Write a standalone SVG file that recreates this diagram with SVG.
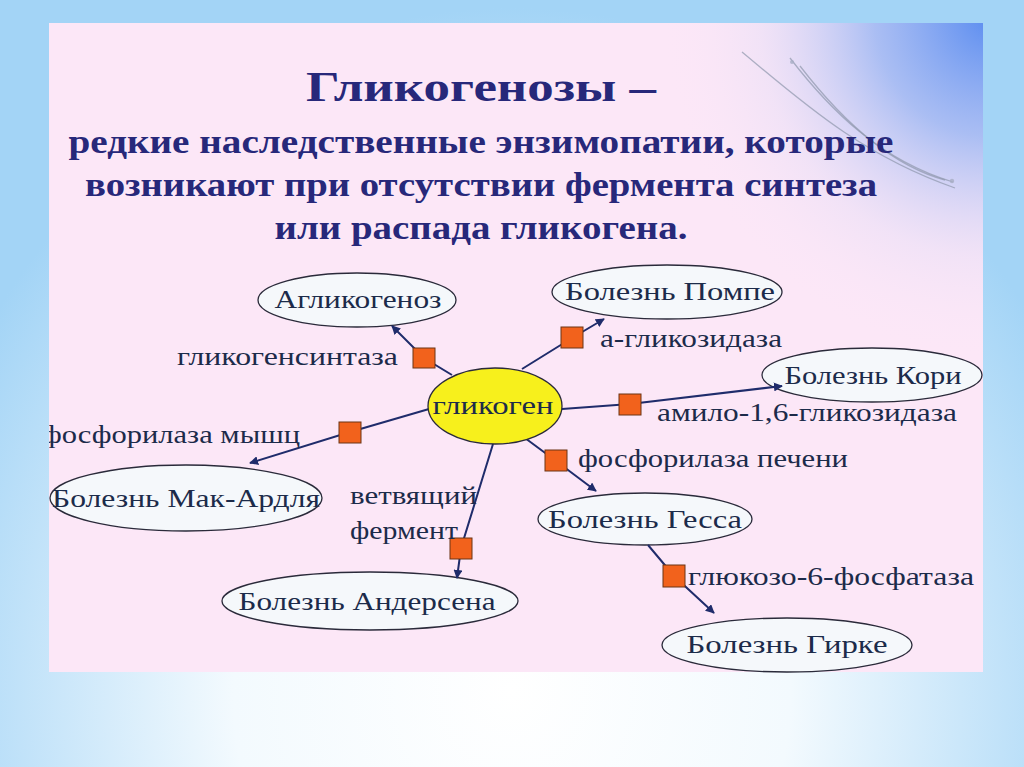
<svg xmlns="http://www.w3.org/2000/svg" width="1024" height="767" viewBox="0 0 1024 767">
<defs>
<radialGradient id="bg" cx="512" cy="690" r="620" gradientUnits="userSpaceOnUse" gradientTransform="translate(512 690) scale(1 1.1) translate(-512 -690)">
<stop offset="0" stop-color="#ffffff"/>
<stop offset="0.45" stop-color="#f3fafe"/>
<stop offset="1" stop-color="#a3d4f6"/>
</radialGradient>
<radialGradient id="blueCorner" cx="990" cy="15" r="330" gradientUnits="userSpaceOnUse" gradientTransform="translate(990 15) scale(1 1.05) translate(-990 -15)">
<stop offset="0" stop-color="#5a8cf0" stop-opacity="1"/>
<stop offset="0.35" stop-color="#8fb0f2" stop-opacity="0.75"/>
<stop offset="0.7" stop-color="#d9d8f6" stop-opacity="0.3"/>
<stop offset="1" stop-color="#fce8f8" stop-opacity="0"/>
</radialGradient>
<clipPath id="panelClip"><rect x="49" y="23" width="934" height="649"/></clipPath>
<marker id="arr" viewBox="0 0 10 10" refX="9" refY="5" markerWidth="9" markerHeight="9" markerUnits="userSpaceOnUse" orient="auto">
<path d="M0,0 L10,5 L0,10 z" fill="#1f2c6b"/>
</marker>
<style>
.title{font-family:"Liberation Serif","Times New Roman",serif;font-weight:bold;fill:#27287a;text-anchor:middle}
.node ellipse{fill:#f5f8fb;stroke:#2a2a3a;stroke-width:1.3}
.node text{font-family:"Liberation Serif","Times New Roman",serif;font-size:25px;fill:#1c2b4a;text-anchor:middle}
.lbl{font-family:"Liberation Serif","Times New Roman",serif;font-size:25px;fill:#1c2b4a}
.conn{fill:none;stroke:#1f2c6b;stroke-width:2}
.sq{fill:#f2621c;stroke:#6b3414;stroke-width:1}
.swoosh{fill:none;stroke:#8f97ad;stroke-width:1.3;opacity:0.7}
</style>
</defs>

<rect x="0" y="0" width="1024" height="767" fill="url(#bg)"/>
<rect x="49" y="23" width="934" height="649" fill="#fce7f7"/>
<rect x="49" y="23" width="934" height="649" fill="url(#blueCorner)"/>

<g id="decor" clip-path="url(#panelClip)">
<path class="swoosh" d="M742,52 C800,100 860,155 955,188"/>
<path class="swoosh" d="M790,58 C830,110 880,160 953,182"/>
<path class="swoosh" d="M800,66 C840,118 890,165 945,180"/>
<circle cx="792" cy="62" r="2" fill="#a7aec4" opacity="0.8"/>
<circle cx="952" cy="181" r="2.2" fill="#a7aec4" opacity="0.8"/>
</g>

<g id="heading">
<text class="title" x="481" y="101" font-size="42" textLength="350" lengthAdjust="spacingAndGlyphs">Гликогенозы –</text>
<text class="title" x="481" y="153" font-size="34" textLength="825" lengthAdjust="spacingAndGlyphs">редкие наследственные энзимопатии, которые</text>
<text class="title" x="481" y="196" font-size="34" textLength="792" lengthAdjust="spacingAndGlyphs">возникают при отсутствии фермента синтеза</text>
<text class="title" x="481" y="239" font-size="34" textLength="413" lengthAdjust="spacingAndGlyphs">или распада гликогена.</text>
</g>

<g id="node-aglikogenoz" class="node">
<ellipse cx="357" cy="300" rx="99" ry="27"/>
<text x="358" y="308" textLength="167" lengthAdjust="spacingAndGlyphs">Агликогеноз</text>
</g>
<g id="node-pompe" class="node">
<ellipse cx="667" cy="292" rx="115" ry="27"/>
<text x="670" y="300" textLength="210" lengthAdjust="spacingAndGlyphs">Болезнь Помпе</text>
</g>
<g id="node-kori" class="node">
<ellipse cx="872" cy="375" rx="110" ry="27"/>
<text x="873" y="384" textLength="177" lengthAdjust="spacingAndGlyphs">Болезнь Кори</text>
</g>
<g id="node-mcardle" class="node">
<ellipse cx="186" cy="498" rx="136" ry="33"/>
<text x="186" y="507" textLength="268" lengthAdjust="spacingAndGlyphs">Болезнь Мак-Ардля</text>
</g>
<g id="node-andersen" class="node">
<ellipse cx="370" cy="601" rx="148" ry="29"/>
<text x="367" y="610" textLength="257" lengthAdjust="spacingAndGlyphs">Болезнь Андерсена</text>
</g>
<g id="node-hess" class="node">
<ellipse cx="645" cy="519" rx="107" ry="26"/>
<text x="645" y="528" textLength="194" lengthAdjust="spacingAndGlyphs">Болезнь Гесса</text>
</g>
<g id="node-girke" class="node">
<ellipse cx="787" cy="645" rx="125" ry="27"/>
<text x="787" y="653" textLength="201" lengthAdjust="spacingAndGlyphs">Болезнь Гирке</text>
</g>

<g id="connectors">
<path class="conn" d="M452,375 L424,358 L392,326" marker-end="url(#arr)"/>
<path class="conn" d="M522,369 L572,338 L604,319" marker-end="url(#arr)"/>
<path class="conn" d="M562,409 L630,404 L782,386" marker-end="url(#arr)"/>
<path class="conn" d="M429,409 L350,432 L250,463" marker-end="url(#arr)"/>
<path class="conn" d="M493,444 L461,548 L457,578" marker-end="url(#arr)"/>
<path class="conn" d="M525,438 L556,461 L596,491" marker-end="url(#arr)"/>
<path class="conn" d="M648,545 L674,576 L714,613" marker-end="url(#arr)"/>
</g>

<g id="node-glycogen" class="node">
<ellipse cx="495" cy="406" rx="67" ry="38" style="fill:#f7f01c;stroke:#2a2a3a"/>
<text x="493" y="414" textLength="121" lengthAdjust="spacingAndGlyphs">гликоген</text>
</g>

<g id="enzymes">
<rect class="sq" x="413" y="348" width="22" height="20"/>
<rect class="sq" x="561" y="327" width="22" height="21"/>
<rect class="sq" x="619" y="394" width="22" height="21"/>
<rect class="sq" x="339" y="422" width="22" height="21"/>
<rect class="sq" x="450" y="538" width="22" height="21"/>
<rect class="sq" x="545" y="450" width="22" height="21"/>
<rect class="sq" x="663" y="565" width="22" height="22"/>
</g>

<g id="labels">
<text class="lbl" x="177" y="365" textLength="221" lengthAdjust="spacingAndGlyphs">гликогенсинтаза</text>
<text class="lbl" x="600" y="347" textLength="182" lengthAdjust="spacingAndGlyphs">а-гликозидаза</text>
<text class="lbl" x="657" y="421" textLength="300" lengthAdjust="spacingAndGlyphs">амило-1,6-гликозидаза</text>
<g clip-path="url(#panelClip)">
<text class="lbl" x="42" y="443" textLength="258" lengthAdjust="spacingAndGlyphs">фосфорилаза мышц</text>
</g>
<text class="lbl" x="578" y="467" textLength="270" lengthAdjust="spacingAndGlyphs">фосфорилаза печени</text>
<text class="lbl" x="350" y="504" textLength="127" lengthAdjust="spacingAndGlyphs">ветвящий</text>
<text class="lbl" x="350" y="539" textLength="108" lengthAdjust="spacingAndGlyphs">фермент</text>
<text class="lbl" x="688" y="585" textLength="286" lengthAdjust="spacingAndGlyphs">глюкозо-6-фосфатаза</text>
</g>
</svg>
